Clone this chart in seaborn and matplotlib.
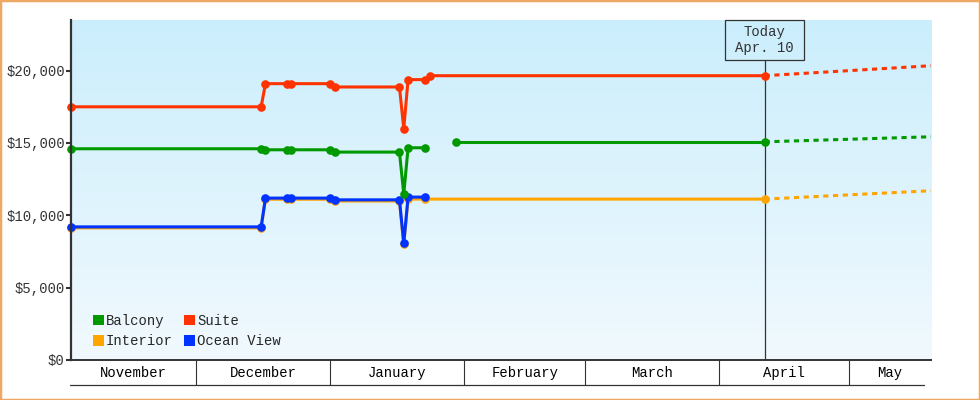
import numpy as np
import pandas as pd
import matplotlib
matplotlib.use("Agg")
import matplotlib.pyplot as plt
import matplotlib.dates as mdates
from matplotlib.patches import Rectangle, Patch
from matplotlib.ticker import FixedLocator, FixedFormatter, StrMethodFormatter
import seaborn as sns

# datas das observacoes
dates_main = ['2024-11-02', '2024-12-16', '2024-12-17', '2024-12-22', '2024-12-23',
              '2025-01-01', '2025-01-02', '2025-01-17', '2025-01-18', '2025-01-19',
              '2025-01-23']
suite = [17500, 17500, 19100, 19100, 19100, 19100, 18870, 18870, 16000, 19380, 19380]
suite_extra_dates = ['2025-01-24', '2025-04-11 12:00']
suite_extra = [19650, 19650]
balcony = [14600, 14600, 14530, 14530, 14530, 14530, 14370, 14370, 11470, 14670, 14670]
balcony_late_dates = ['2025-01-30', '2025-04-11 12:00']
balcony_late = [15080, 15080]
ocean_view = [9200, 9200, 11190, 11190, 11190, 11190, 11070, 11070, 8070, 11260, 11260]
interior = [9130, 9130, 11110, 11110, 11110, 11110, 10990, 10990, 8000, 11120, 11120]
interior_extra_dates = ['2025-04-11 12:00']
interior_extra = [11120]

# projecao (tracejado) de hoje ate o fim do eixo
proj_dates = ['2025-04-11 12:00', '2025-05-20']
proj_suite = [19650, 20340]
proj_balcony = [15080, 15430]
proj_interior = [11120, 11700]

today = '2025-04-11 12:00'
today_label = 'Today\nApr. 10'
month_starts = ['2024-11-02', '2024-12-01', '2025-01-01', '2025-02-01', '2025-03-01',
                '2025-04-01', '2025-05-01', '2025-05-20']
month_names = ['November', 'December', 'January', 'February', 'March', 'April', 'May']

colors = {'Balcony': '#009900', 'Suite': '#ff3300',
          'Interior': '#ffa500', 'Ocean View': '#0033ff'}


def frame(name, d, v, seg='a'):
    return pd.DataFrame({'date': pd.to_datetime(d, format='ISO8601'), 'price': v,
                         'cabin': name, 'seg': seg})


df = pd.concat([
    frame('Interior', dates_main + interior_extra_dates, interior + interior_extra),
    frame('Ocean View', dates_main, ocean_view),
    frame('Balcony', dates_main, balcony),
    frame('Balcony', balcony_late_dates, balcony_late, 'b'),
    frame('Suite', dates_main + suite_extra_dates, suite + suite_extra),
], ignore_index=True)

df_proj = pd.concat([
    frame('Interior', proj_dates, proj_interior),
    frame('Balcony', proj_dates, proj_balcony),
    frame('Suite', proj_dates, proj_suite),
], ignore_index=True)

sns.set_style('white')
plt.rcParams['font.family'] = ['Liberation Mono', 'DejaVu Sans Mono']
plt.rcParams['font.size'] = 10
ink = '#333333'

fig = plt.figure(figsize=(9.8, 4), dpi=100)
pos = [71 / 980, 40 / 400, 860 / 980, 340 / 400]

# fundo em degrade
bg = fig.add_axes(pos, zorder=0)
grad = np.linspace(0, 1, 256).reshape(-1, 1)
cmap = matplotlib.colors.LinearSegmentedColormap.from_list('bg', ['#cbeefc', '#f1f9fe'])
bg.imshow(grad, aspect='auto', cmap=cmap, extent=[0, 1, 0, 1])
bg.set_axis_off()

ax = fig.add_axes(pos, zorder=1)
ax.patch.set_alpha(0)

order = ['Interior', 'Ocean View', 'Balcony', 'Suite']
sns.lineplot(data=df, x='date', y='price', hue='cabin', units='seg', estimator=None,
             hue_order=order, palette=colors, sort=False, legend=False, ax=ax,
             lw=2.2, marker='o', markersize=6.2, markeredgewidth=0, clip_on=False)
sns.lineplot(data=df_proj, x='date', y='price', hue='cabin', units='seg', estimator=None,
             hue_order=['Interior', 'Balcony', 'Suite'], palette=colors, legend=False,
             ax=ax, lw=2.2, linestyle=(0, (1.7, 1.5)))

xs = mdates.date2num(pd.to_datetime(month_starts))
ax.set_xlim(xs[0], xs[-1])
ax.set_ylim(0, 23500)
ax.set_xlabel('')
ax.set_ylabel('')

# eixos
for s in ['top', 'right']:
    ax.spines[s].set_visible(False)
ax.spines['left'].set_linewidth(1.6)
ax.spines['left'].set_color(ink)
ax.spines['bottom'].set_linewidth(1.4)
ax.spines['bottom'].set_color(ink)

ax.yaxis.set_major_locator(FixedLocator([0, 5000, 10000, 15000, 20000]))
ax.yaxis.set_major_formatter(StrMethodFormatter('${x:,.0f}'))
ax.tick_params(axis='y', left=True, length=3.5, width=1.5, color=ink, labelcolor=ink, pad=1)

centers = (xs[:-1] + xs[1:]) / 2
ax.xaxis.set_major_locator(FixedLocator(centers))
ax.xaxis.set_major_formatter(FixedFormatter(month_names))
ax.xaxis.set_minor_locator(FixedLocator(xs[1:-1]))
ax.tick_params(axis='x', which='major', bottom=True, length=0, pad=4, labelcolor='black')
ax.tick_params(axis='x', which='minor', bottom=True, length=18, width=0.8, color=ink,
               direction='out')
ax.plot([-0.001, 0.992], [-0.0735, -0.0735], transform=ax.transAxes, color=ink,
        lw=0.9, clip_on=False)

# linha de hoje com caixa
t = mdates.date2num(pd.Timestamp(today))
ax.plot([t, t], [0, 0.882], transform=ax.get_xaxis_transform(), color=ink, lw=0.9, zorder=1)
w = 79 / 4.325
ax.add_patch(Rectangle((t - w / 2, 0.882), w, 0.118, transform=ax.get_xaxis_transform(),
                       facecolor='none', edgecolor=ink, lw=0.9, clip_on=False))
ax.text(t, 0.941, today_label, transform=ax.get_xaxis_transform(), ha='center', va='center',
        color=ink, linespacing=1.15)

handles = [Patch(facecolor=colors[n], edgecolor='none', label=n)
           for n in ['Balcony', 'Interior', 'Suite', 'Ocean View']]
ax.legend(handles=handles, ncol=2, loc='lower left', bbox_to_anchor=(0.025, 0.035),
          frameon=False, borderaxespad=0, borderpad=0, handlelength=0.8, handleheight=0.8,
          handletextpad=0.15, columnspacing=0.8, labelspacing=0.45)

fig.patches.append(Rectangle((0, 0), 1, 1, transform=fig.transFigure, fill=False,
                             edgecolor='#eea862', lw=2.5))
fig.savefig('out.png', dpi=100)
